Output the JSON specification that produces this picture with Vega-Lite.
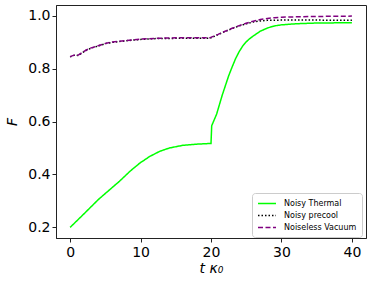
{
  "$schema": "https://vega.github.io/schema/vega-lite/v6.json",
  "width": 310,
  "height": 233,
  "autosize": {"type": "none"},
  "padding": {"left": 56, "top": 5, "right": 8, "bottom": 47},
  "background": "white",
  "config": {
    "font": "DejaVu Sans",
    "view": {"stroke": "#222", "strokeWidth": 1},
    "axis": {
      "grid": false,
      "domainColor": "#222",
      "tickColor": "#222",
      "tickSize": 4,
      "labelFontSize": 14,
      "labelColor": "#000",
      "titleFontSize": 14,
      "titleFontWeight": "normal",
      "titleColor": "#000",
      "labelFont": "DejaVu Sans",
      "titleFont": "DejaVu Sans"
    }
  },
  "data": {
    "values": [
      {"series": "Noisy Thermal", "t": 0, "F": 0.2},
      {"series": "Noisy Thermal", "t": 2, "F": 0.252},
      {"series": "Noisy Thermal", "t": 4, "F": 0.305},
      {"series": "Noisy Thermal", "t": 5.6, "F": 0.342},
      {"series": "Noisy Thermal", "t": 7, "F": 0.374},
      {"series": "Noisy Thermal", "t": 8.5, "F": 0.412},
      {"series": "Noisy Thermal", "t": 9.9, "F": 0.443},
      {"series": "Noisy Thermal", "t": 11.3, "F": 0.468},
      {"series": "Noisy Thermal", "t": 12.7, "F": 0.487},
      {"series": "Noisy Thermal", "t": 14.1, "F": 0.5},
      {"series": "Noisy Thermal", "t": 16, "F": 0.51},
      {"series": "Noisy Thermal", "t": 18.3, "F": 0.515},
      {"series": "Noisy Thermal", "t": 20, "F": 0.517},
      {"series": "Noisy Thermal", "t": 20.1, "F": 0.584},
      {"series": "Noisy Thermal", "t": 20.8, "F": 0.628},
      {"series": "Noisy Thermal", "t": 21.6, "F": 0.7},
      {"series": "Noisy Thermal", "t": 22.5, "F": 0.772},
      {"series": "Noisy Thermal", "t": 23, "F": 0.806},
      {"series": "Noisy Thermal", "t": 23.5, "F": 0.838},
      {"series": "Noisy Thermal", "t": 24, "F": 0.864},
      {"series": "Noisy Thermal", "t": 24.5, "F": 0.885},
      {"series": "Noisy Thermal", "t": 25, "F": 0.901},
      {"series": "Noisy Thermal", "t": 25.5, "F": 0.913},
      {"series": "Noisy Thermal", "t": 26, "F": 0.923},
      {"series": "Noisy Thermal", "t": 27, "F": 0.941},
      {"series": "Noisy Thermal", "t": 28, "F": 0.953},
      {"series": "Noisy Thermal", "t": 29, "F": 0.961},
      {"series": "Noisy Thermal", "t": 30, "F": 0.965},
      {"series": "Noisy Thermal", "t": 32, "F": 0.969},
      {"series": "Noisy Thermal", "t": 35, "F": 0.972},
      {"series": "Noisy Thermal", "t": 40, "F": 0.973},
      {"series": "Noisy precool", "t": 0, "F": 0.844},
      {"series": "Noisy precool", "t": 0.7, "F": 0.851},
      {"series": "Noisy precool", "t": 1.1, "F": 0.849},
      {"series": "Noisy precool", "t": 2.3, "F": 0.869},
      {"series": "Noisy precool", "t": 3, "F": 0.877},
      {"series": "Noisy precool", "t": 4.2, "F": 0.887},
      {"series": "Noisy precool", "t": 5, "F": 0.894},
      {"series": "Noisy precool", "t": 6, "F": 0.899},
      {"series": "Noisy precool", "t": 8, "F": 0.905},
      {"series": "Noisy precool", "t": 10, "F": 0.91},
      {"series": "Noisy precool", "t": 12, "F": 0.913},
      {"series": "Noisy precool", "t": 15, "F": 0.914},
      {"series": "Noisy precool", "t": 19.8, "F": 0.914},
      {"series": "Noisy precool", "t": 21, "F": 0.928},
      {"series": "Noisy precool", "t": 22, "F": 0.94},
      {"series": "Noisy precool", "t": 23, "F": 0.951},
      {"series": "Noisy precool", "t": 24, "F": 0.961},
      {"series": "Noisy precool", "t": 25, "F": 0.969},
      {"series": "Noisy precool", "t": 26, "F": 0.976},
      {"series": "Noisy precool", "t": 27, "F": 0.98},
      {"series": "Noisy precool", "t": 28, "F": 0.982},
      {"series": "Noisy precool", "t": 30, "F": 0.983},
      {"series": "Noisy precool", "t": 35, "F": 0.983},
      {"series": "Noisy precool", "t": 40, "F": 0.982},
      {"series": "Noiseless Vacuum", "t": 0, "F": 0.845},
      {"series": "Noiseless Vacuum", "t": 0.7, "F": 0.852},
      {"series": "Noiseless Vacuum", "t": 1.1, "F": 0.85},
      {"series": "Noiseless Vacuum", "t": 2.3, "F": 0.87},
      {"series": "Noiseless Vacuum", "t": 3, "F": 0.878},
      {"series": "Noiseless Vacuum", "t": 4.2, "F": 0.888},
      {"series": "Noiseless Vacuum", "t": 5, "F": 0.895},
      {"series": "Noiseless Vacuum", "t": 6, "F": 0.9},
      {"series": "Noiseless Vacuum", "t": 8, "F": 0.906},
      {"series": "Noiseless Vacuum", "t": 10, "F": 0.911},
      {"series": "Noiseless Vacuum", "t": 12, "F": 0.914},
      {"series": "Noiseless Vacuum", "t": 15, "F": 0.916},
      {"series": "Noiseless Vacuum", "t": 19.8, "F": 0.916},
      {"series": "Noiseless Vacuum", "t": 21, "F": 0.929},
      {"series": "Noiseless Vacuum", "t": 22, "F": 0.941},
      {"series": "Noiseless Vacuum", "t": 23, "F": 0.952},
      {"series": "Noiseless Vacuum", "t": 24, "F": 0.962},
      {"series": "Noiseless Vacuum", "t": 25, "F": 0.971},
      {"series": "Noiseless Vacuum", "t": 26, "F": 0.979},
      {"series": "Noiseless Vacuum", "t": 27, "F": 0.985},
      {"series": "Noiseless Vacuum", "t": 28, "F": 0.989},
      {"series": "Noiseless Vacuum", "t": 29, "F": 0.992},
      {"series": "Noiseless Vacuum", "t": 30, "F": 0.994},
      {"series": "Noiseless Vacuum", "t": 33, "F": 0.996},
      {"series": "Noiseless Vacuum", "t": 36, "F": 0.997},
      {"series": "Noiseless Vacuum", "t": 40, "F": 0.998}
    ]
  },
  "mark": {"type": "line", "strokeWidth": 1.5, "clip": true},
  "encoding": {
    "x": {
      "field": "t",
      "type": "quantitative",
      "scale": {"domain": [-2, 42], "nice": false, "zero": false},
      "axis": {"values": [0, 10, 20, 30, 40], "title": "t κ₀", "titleFontStyle": "italic", "labelPadding": 3, "titlePadding": 2}
    },
    "y": {
      "field": "F",
      "type": "quantitative",
      "scale": {"domain": [0.16, 1.04], "nice": false, "zero": false},
      "axis": {"values": [0.2, 0.4, 0.6, 0.8, 1.0], "format": ".1f", "title": "F", "titleFontStyle": "italic", "labelPadding": 2, "titlePadding": 8}
    },
    "color": {
      "field": "series",
      "type": "nominal",
      "scale": {"domain": ["Noisy Thermal", "Noisy precool", "Noiseless Vacuum"], "range": ["#00ff00", "#000000", "#800080"]},
      "legend": {
        "title": null,
        "orient": "none",
        "legendX": 196,
        "legendY": 188,
        "symbolType": "M-1,0H3",
        "symbolSize": 81,
        "symbolStrokeWidth": 1.5,
        "labelFontSize": 8,
        "labelFont": "DejaVu Sans",
        "labelColor": "#000",
        "labelOffset": 16,
        "rowPadding": 2,
        "padding": 5,
        "fillColor": "white",
        "strokeColor": "#ccc",
        "cornerRadius": 3
      }
    },
    "strokeDash": {
      "field": "series",
      "type": "nominal",
      "scale": {"domain": ["Noisy Thermal", "Noisy precool", "Noiseless Vacuum"], "range": [[1, 0], [1.5, 2], [5, 2.5]]},
      "legend": null
    }
  }
}
